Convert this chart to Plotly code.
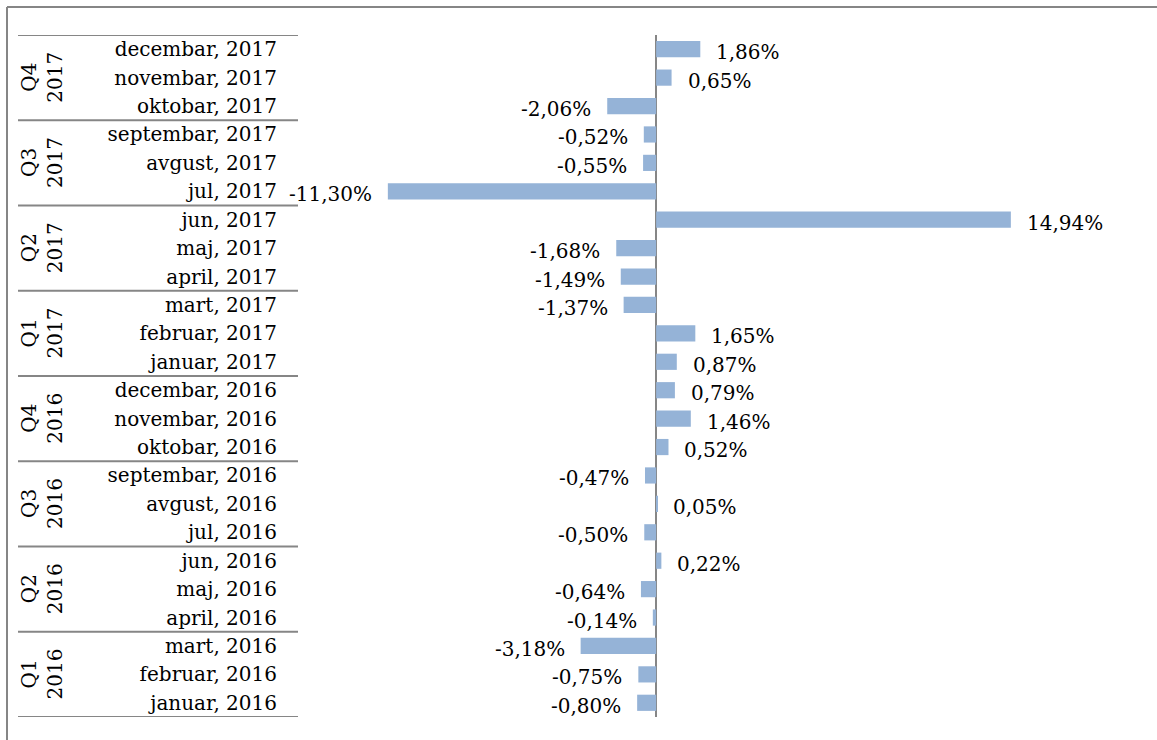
import plotly.graph_objects as go

months = ["decembar, 2017", "novembar, 2017", "oktobar, 2017",
          "septembar, 2017", "avgust, 2017", "jul, 2017",
          "jun, 2017", "maj, 2017", "april, 2017",
          "mart, 2017", "februar, 2017", "januar, 2017",
          "decembar, 2016", "novembar, 2016", "oktobar, 2016",
          "septembar, 2016", "avgust, 2016", "jul, 2016",
          "jun, 2016", "maj, 2016", "april, 2016",
          "mart, 2016", "februar, 2016", "januar, 2016"]
values = [1.86, 0.65, -2.06,
          -0.52, -0.55, -11.30,
          14.94, -1.68, -1.49,
          -1.37, 1.65, 0.87,
          0.79, 1.46, 0.52,
          -0.47, 0.05, -0.50,
          0.22, -0.64, -0.14,
          -3.18, -0.75, -0.80]
quarters = ["Q4<br>2017", "Q3<br>2017", "Q2<br>2017", "Q1<br>2017",
            "Q4<br>2016", "Q3<br>2016", "Q2<br>2016", "Q1<br>2016"]

FONT = "DejaVu Serif"
GRAY = "#868686"
n = len(months)
ypos = [n - 1 - i for i in range(n)]

fig = go.Figure(go.Bar(
    x=values, y=ypos, orientation="h",
    marker=dict(color="#95B3D7", line=dict(width=0)),
    width=0.57, showlegend=False, hoverinfo="skip"))

ann = []
for v, y in zip(values, ypos):
    txt = f"{v:.2f}".replace(".", ",") + "%"
    ann.append(dict(x=v, y=y, xref="x", yref="y", text=txt, showarrow=False,
                    xanchor="left" if v >= 0 else "right",
                    xshift=14 if v >= 0 else -14, yshift=-3,
                    font=dict(family=FONT, size=20, color="#000000")))

# quarter group labels and separators
W = 831.0
H = 682.0
def px2paper(px):
    return (px - 300) / W

def py2paper(py):
    return (717 - py) / H

shapes = []
for g, q in enumerate(quarters):
    top = n - 1 - 3 * g + 0.5
    mid = top - 1.5
    ann.append(dict(x=px2paper(42), y=mid, xref="paper", yref="y", text=q,
                    showarrow=False, textangle=-90, xanchor="center", yanchor="middle",
                    font=dict(family=FONT, size=20, color="#000000")))
    shapes.append(dict(type="line", xref="paper", yref="y",
                       x0=px2paper(18), x1=px2paper(298), y0=top, y1=top,
                       line=dict(color=GRAY, width=2)))
shapes.append(dict(type="line", xref="paper", yref="y",
                   x0=px2paper(18), x1=px2paper(298), y0=-0.5, y1=-0.5,
                   line=dict(color=GRAY, width=2)))
# outer chart frame (left and top edges visible in the view)
shapes.append(dict(type="line", xref="paper", yref="paper",
                   x0=px2paper(7), x1=px2paper(1157), y0=py2paper(7), y1=py2paper(7),
                   line=dict(color=GRAY, width=2)))
shapes.append(dict(type="line", xref="paper", yref="paper",
                   x0=px2paper(7), x1=px2paper(7), y0=py2paper(7), y1=py2paper(740),
                   line=dict(color=GRAY, width=2)))

fig.update_layout(
    width=1157, height=740,
    margin=dict(l=300, r=26, t=35, b=23),
    paper_bgcolor="white", plot_bgcolor="white",
    xaxis=dict(range=[-15, 20], showticklabels=False, showgrid=False,
               zeroline=True, zerolinecolor=GRAY, zerolinewidth=2, showline=False,
               fixedrange=True),
    yaxis=dict(range=[-0.5, n - 0.5], tickvals=ypos, ticktext=months,
               ticks="", showgrid=False, zeroline=False, showline=False,
               ticklabelstandoff=22,
               tickfont=dict(family=FONT, size=20, color="#000000"),
               fixedrange=True),
    annotations=ann, shapes=shapes, bargap=0.43,
)

fig.write_html("out.html", config={"displayModeBar": False},
               post_script="document.body.style.margin='0';document.body.style.overflow='hidden';")
